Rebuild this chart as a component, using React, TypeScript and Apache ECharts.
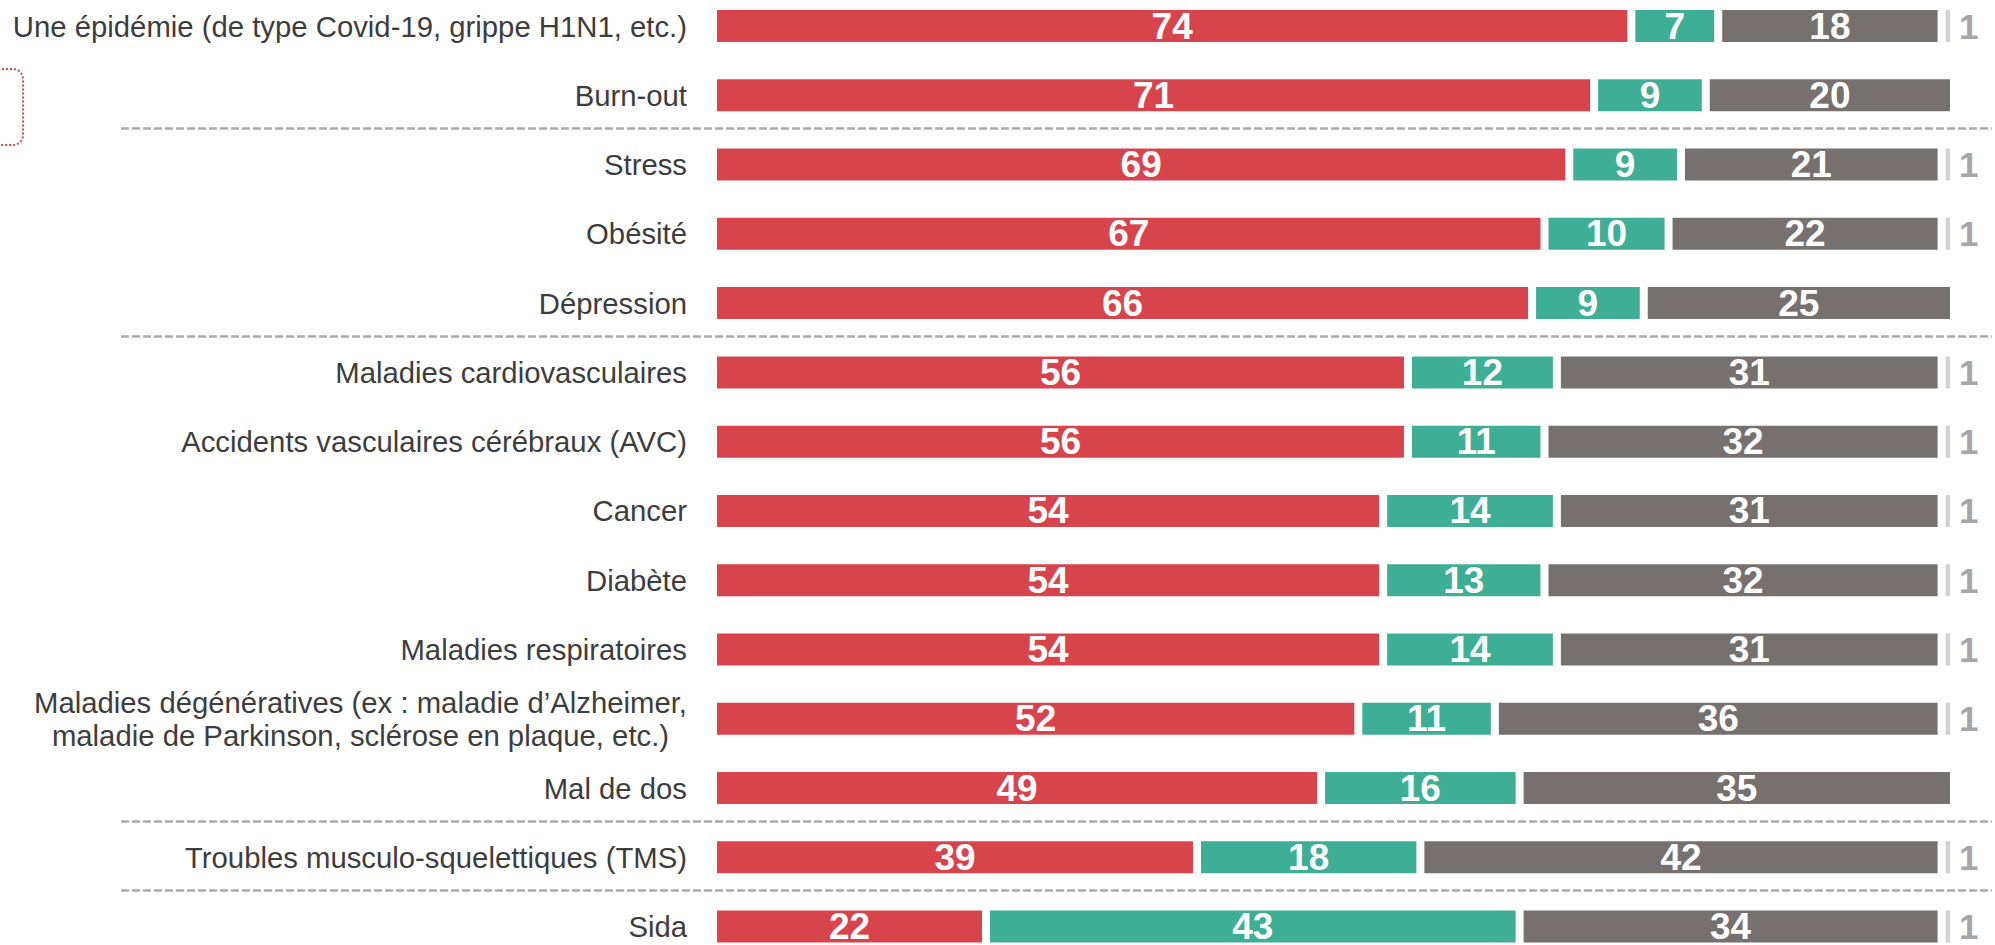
import React, { useEffect, useRef } from "react";
import * as echarts from "echarts";

const categories = [
  "Une épidémie (de type Covid-19, grippe H1N1, etc.)",
  "Burn-out",
  "Stress",
  "Obésité",
  "Dépression",
  "Maladies cardiovasculaires",
  "Accidents vasculaires cérébraux (AVC)",
  "Cancer",
  "Diabète",
  "Maladies respiratoires",
  "Maladies dégénératives (ex : maladie d’Alzheimer,\nmaladie de Parkinson, sclérose en plaque, etc.)",
  "Mal de dos",
  "Troubles musculo-squelettiques (TMS)",
  "Sida",
];

const redValues = [74, 71, 69, 67, 66, 56, 56, 54, 54, 54, 52, 49, 39, 22];
const tealValues = [7, 9, 9, 10, 9, 12, 11, 14, 13, 14, 11, 16, 18, 43];
const greyValues = [18, 20, 21, 22, 25, 31, 32, 31, 32, 31, 36, 35, 42, 34];
const nspValues: (number | null)[] = [1, null, 1, 1, null, 1, 1, 1, 1, 1, 1, null, 1, 1];

const seriesNames = ["Risque important", "Risque modéré", "Risque faible", "Ne se prononce pas"];

// separators drawn after these categories
const separatorsAfter = ["Burn-out", "Dépression", "Mal de dos", "Troubles musculo-squelettiques (TMS)"];

const FONT = "'Liberation Sans', Arial, sans-serif";
const OFFSET = 20; // chart div is shifted up by this many pixels

export default function App() {
  const ref = useRef<HTMLDivElement>(null);

  useEffect(() => {
    if (!ref.current) return;
    const chart = echarts.init(ref.current, undefined, { renderer: "svg" });

    const insideLabel = {
      show: true,
      position: "inside",
      color: "#ffffff",
      fontSize: 37,
      fontWeight: "bold",
      fontFamily: FONT,
    };
    const barCommon = {
      type: "bar",
      stack: "total",
      barWidth: 40,
      silent: true,
    };
    const border = { borderColor: "#ffffff", borderWidth: 4 };

    chart.setOption({
      animation: false,
      backgroundColor: "#ffffff",
      grid: {
        left: 713,
        top: OFFSET - 8.6,
        width: 1241,
        height: 969.8,
        containLabel: false,
        outerBoundsMode: "none",
      },
      xAxis: { type: "value", min: 0, max: 100, show: false },
      yAxis: {
        type: "category",
        data: categories,
        inverse: true,
        axisLine: { show: false },
        axisTick: { show: false },
        splitLine: { show: false },
        axisLabel: {
          margin: 26,
          fontSize: 29.3,
          color: "#3d3d3d",
          fontFamily: FONT,
          formatter: (v: string) => v.split("\n").map((l) => `{c|${l}}`).join("\n"),
          rich: {
            c: { align: "center", fontSize: 29.3, color: "#3d3d3d", fontFamily: FONT, lineHeight: 33 },
          },
        },
      },
      graphic: [
        {
          type: "rect",
          shape: { x: -20, y: OFFSET + 69, width: 43, height: 76, r: 10 },
          style: { fill: "none", stroke: "#d9434b", lineWidth: 2, lineDash: [2, 2] },
          silent: true,
        },
      ],
      series: [
        {
          ...barCommon,
          name: seriesNames[0],
          data: redValues,
          itemStyle: { color: "#d8444c", ...border },
          label: insideLabel,
        },
        {
          ...barCommon,
          name: seriesNames[1],
          data: tealValues,
          itemStyle: { color: "#3eae95", ...border },
          label: insideLabel,
        },
        {
          ...barCommon,
          name: seriesNames[2],
          data: greyValues,
          itemStyle: { color: "#76716f", ...border },
          label: insideLabel,
        },
        {
          ...barCommon,
          name: seriesNames[3],
          data: nspValues,
          itemStyle: { color: "#d2d2d2", ...border },
          label: {
            show: true,
            position: "right",
            distance: 5,
            color: "#a6a6a6",
            fontSize: 35,
            fontWeight: "bold",
            fontFamily: FONT,
            formatter: (p: any) => (p.value == null ? "" : String(p.value)),
          },
        },
        {
          type: "custom",
          name: "separators",
          silent: true,
          clip: false,
          z: 10,
          encode: { x: 0, y: 1 },
          data: separatorsAfter.map((c) => [0, categories.indexOf(c)]),
          renderItem: (params: any, api: any) => {
            const pt = api.coord([0, api.value(1)]);
            const band = api.size([0, 1])[1];
            const y = Math.round(pt[1] + band / 2 - 2) + 0.5;
            return {
              type: "line",
              shape: { x1: 121, y1: y, x2: 1992, y2: y },
              style: { stroke: "#ababab", lineWidth: 2.5, lineDash: [8, 3] },
            };
          },
        },
      ],
    });

    return () => chart.dispose();
  }, []);

  return (
    <div
      ref={ref}
      style={{ position: "fixed", left: 0, top: -OFFSET, width: 1995, height: 945 + 2 * OFFSET }}
    />
  );
}
